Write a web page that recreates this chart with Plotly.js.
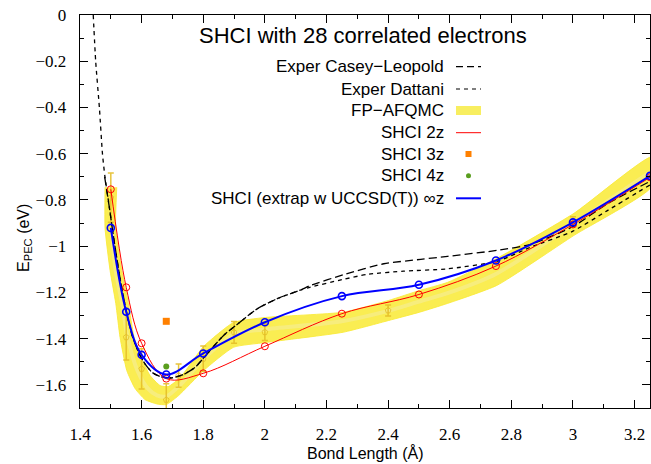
<!DOCTYPE html>
<html>
<head>
<meta charset="utf-8">
<script src="https://cdn.plot.ly/plotly-3.0.1.min.js"></script>
<style>html,body{margin:0;padding:0;background:#fff;}#chart{width:651px;height:464px;}</style>
</head>
<body>
<div id="chart"></div>
<script>
// ---- data ----
const shciX   = [1.5, 1.55, 1.6, 1.68, 1.8, 2.0, 2.25, 2.5, 2.75, 3.0, 3.25];
const shci2z  = [-0.754, -1.178, -1.420, -1.573, -1.550, -1.433, -1.292, -1.209, -1.086, -0.906, -0.702];
const shciInf = [-0.921, -1.284, -1.470, -1.555, -1.464, -1.329, -1.216, -1.167, -1.062, -0.897, -0.696];
const shci3zX = [1.68];
const shci3z  = [-1.325];
const shci4zX = [1.68];
const shci4z  = [-1.520];

const dattaniX = [1.443, 1.451, 1.463, 1.473, 1.481, 1.495, 1.51, 1.53, 1.55, 1.57, 1.595, 1.611, 1.633, 1.66, 1.698, 1.736, 1.774, 1.80, 1.866, 1.899, 1.975, 2.04, 2.115, 2.148, 2.25, 2.332, 2.45, 2.593, 2.755, 2.863, 3.0, 3.113, 3.25];
const dattaniY = [0.0, -0.202, -0.402, -0.602, -0.70, -0.83, -0.97, -1.14, -1.28, -1.39, -1.473, -1.509, -1.545, -1.564, -1.570, -1.555, -1.524, -1.485, -1.386, -1.350, -1.271, -1.227, -1.190, -1.177, -1.145, -1.122, -1.108, -1.098, -1.065, -1.004, -0.935, -0.845, -0.735];

const caseyX = [1.48, 1.495, 1.51, 1.53, 1.55, 1.57, 1.595, 1.611, 1.633, 1.66, 1.698, 1.736, 1.774, 1.80, 1.866, 1.899, 1.975, 2.04, 2.115, 2.148, 2.256, 2.386, 2.506, 2.593, 2.755, 2.863, 3.0, 3.113, 3.25];
const caseyY = [-0.70, -0.83, -0.97, -1.14, -1.28, -1.39, -1.473, -1.509, -1.545, -1.564, -1.570, -1.555, -1.524, -1.485, -1.386, -1.350, -1.271, -1.227, -1.190, -1.170, -1.123, -1.076, -1.057, -1.044, -1.018, -0.992, -0.915, -0.815, -0.720];

// FP-AFQMC band: outer edge (left wall, bottom, lower side) and inner edge (right wall, top side)
const afqOuterX = [1.4813, 1.4813, 1.4976, 1.5161, 1.5301, 1.5519, 1.5789, 1.6114, 1.6494, 1.6797, 1.7197, 1.801, 1.8985, 2.0016, 2.2543, 2.4016, 2.5024, 2.5925, 2.7528, 3.0033, 3.2537];
const afqOuterY = [-0.7452, -0.9229, -1.1049, -1.2478, -1.3951, -1.5381, -1.6161, -1.6638, -1.6824, -1.6854, -1.6464, -1.5381, -1.4372, -1.4168, -1.3722, -1.3215, -1.2855, -1.2478, -1.1698, -0.9532, -0.7452];
const afqInnerX = [1.5193, 1.5154, 1.5356, 1.5571, 1.5756, 1.5984, 1.6276, 1.6602, 1.6862, 1.7252, 1.801, 1.8985, 2.0016, 2.2543, 2.4016, 2.5024, 2.5925, 2.7528, 3.0033, 3.2537];
const afqInnerY = [-0.7452, -0.9229, -1.1049, -1.2478, -1.3951, -1.4818, -1.5598, -1.6031, -1.6075, -1.5685, -1.4341, -1.3302, -1.3085, -1.2855, -1.2348, -1.1915, -1.1568, -1.0529, -0.8579, -0.6153];
// lighter stripe along the band
const afqMidX = [1.503, 1.515, 1.537, 1.554, 1.587, 1.62, 1.65, 1.68, 1.72, 1.8, 1.9, 2.0, 2.25, 2.4, 2.5, 2.6, 2.75, 3.0, 3.25];
const afqMidY = [-0.92, -1.10, -1.25, -1.39, -1.54, -1.615, -1.645, -1.65, -1.607, -1.49, -1.38, -1.36, -1.325, -1.28, -1.24, -1.20, -1.12, -0.906, -0.68];

const afqX   = [1.5, 1.55, 1.6, 1.68, 1.72, 1.8, 1.9, 2.0, 2.4, 3.0];
const afqY   = [-0.79, -1.394, -1.531, -1.665, -1.560, -1.487, -1.373, -1.372, -1.278, -0.893];
const afqErr = [0.107, 0.098, 0.087, 0.07, 0.05, 0.055, 0.047, 0.036, 0.024, 0.02];

const legendLabels = ["Exper Casey\u2212Leopold", "Exper Dattani", "FP\u2212AFQMC", "SHCI 2z", "SHCI 3z", "SHCI 4z", "SHCI (extrap w UCCSD(T)) \u221Ez"];
const titleText = "SHCI with 28 correlated electrons";
const xTitle = "Bond Length (\u00C5)";
const yTitle = "E<sub>PEC</sub> (eV)";

// ---- layout helpers (pixel -> paper) ----
const W = 651, H = 464, ML = 80, MR = 1, MT = 15, MB = 56;
const PW = W - ML - MR, PH = H - MT - MB;
const pxX = p => (p - ML) / PW;
const pxY = p => 1 - (p - MT) / PH;

const bandX = afqOuterX.concat(afqInnerX.slice().reverse());
const bandY = afqOuterY.concat(afqInnerY.slice().reverse());

const SANS = 'Liberation Sans';
const SERIF = 'Liberation Serif';

const traces = [
  {x: bandX, y: bandY, mode: 'lines', fill: 'toself', fillcolor: 'rgba(249,234,58,0.88)',
   line: {color: 'rgba(249,234,58,0.88)', width: 1, shape: 'spline', smoothing: 0.5}, hoverinfo: 'skip'},
  {x: afqMidX, y: afqMidY, mode: 'lines', line: {color: 'rgba(246,236,140,0.75)', width: 4, shape: 'spline', smoothing: 0.8}, hoverinfo: 'skip'},
  {x: afqX, y: afqY, mode: 'markers', marker: {symbol: 'pentagon-open', size: 6, color: 'rgba(228,190,40,0.85)', line: {width: 1}},
   error_y: {type: 'data', array: afqErr, visible: true, color: 'rgba(228,190,40,0.9)', thickness: 1.5, width: 3}},
  {x: dattaniX, y: dattaniY, mode: 'lines', line: {color: '#000', width: 1.3, dash: '4px,4px', shape: 'spline', smoothing: 0.6}},
  {x: caseyX, y: caseyY, mode: 'lines', line: {color: '#000', width: 1.3, dash: '8px,4px', shape: 'spline', smoothing: 0.6}},
  {x: shciX, y: shci2z, mode: 'lines+markers', line: {color: '#ff0000', width: 1, shape: 'spline'},
   marker: {symbol: 'circle-open', size: 7, color: '#ff0000', line: {width: 1}}},
  {x: shci3zX, y: shci3z, mode: 'markers', marker: {symbol: 'square', size: 7, color: '#ff8000'}},
  {x: shci4zX, y: shci4z, mode: 'markers', marker: {symbol: 'circle', size: 6, color: '#5a9e1e'}},
  {x: shciX, y: shciInf, mode: 'lines+markers', line: {color: '#0000ff', width: 2, shape: 'spline'},
   marker: {symbol: 'circle-open', size: 7, color: '#0000ff', line: {width: 1.6}}}
];

// ---- custom legend (text right-aligned, sample to its right, as in the reference) ----
const rowsPy = [66.7, 89, 110.5, 132.7, 154, 175.7, 198.3];
const textRight = 446, s0 = 456, s1 = 481, sc = 468.5;
const annotations = [];
const shapes = [];
legendLabels.forEach((t, i) => {
  annotations.push({xref: 'paper', yref: 'paper', x: pxX(textRight), y: pxY(rowsPy[i]), xanchor: 'right', yanchor: 'middle',
    text: t, showarrow: false, font: {family: SANS, size: 17, color: '#000'}});
});
const sampleLine = (i, color, width, dash) => shapes.push({type: 'line', xref: 'paper', yref: 'paper',
  x0: pxX(s0), x1: pxX(s1), y0: pxY(rowsPy[i]), y1: pxY(rowsPy[i]), line: {color: color, width: width, dash: dash}});
sampleLine(0, '#000', 1.2, '7px,4px');
sampleLine(1, '#000', 1.2, '4px,4px');
shapes.push({type: 'rect', xref: 'paper', yref: 'paper', x0: pxX(s0), x1: pxX(s1), y0: pxY(rowsPy[2] + 4.5), y1: pxY(rowsPy[2] - 4.5),
  fillcolor: '#f8ee60', line: {width: 0}});
sampleLine(3, '#ff0000', 1, 'solid');
shapes.push({type: 'rect', xref: 'paper', yref: 'paper', x0: pxX(sc - 3), x1: pxX(sc + 3), y0: pxY(rowsPy[4] + 3), y1: pxY(rowsPy[4] - 3),
  fillcolor: '#ff8000', line: {width: 0}});
shapes.push({type: 'circle', xref: 'paper', yref: 'paper', x0: pxX(sc - 2.5), x1: pxX(sc + 2.5), y0: pxY(rowsPy[5] + 2.5), y1: pxY(rowsPy[5] - 2.5),
  fillcolor: '#5a9e1e', line: {width: 0}});
sampleLine(6, '#0000ff', 2, 'solid');

annotations.push({xref: 'paper', yref: 'paper', x: pxX(363), y: pxY(36), xanchor: 'center', yanchor: 'middle',
  text: titleText, showarrow: false, font: {family: SANS, size: 22, color: '#000'}});
annotations.push({xref: 'paper', yref: 'paper', x: pxX(365), y: pxY(453), xanchor: 'center', yanchor: 'middle',
  text: xTitle, showarrow: false, font: {family: SANS, size: 16, color: '#000'}});
annotations.push({xref: 'paper', yref: 'paper', x: pxX(24), y: pxY(238), xanchor: 'center', yanchor: 'middle', textangle: -90,
  text: yTitle, showarrow: false, font: {family: SANS, size: 16, color: '#000'}});

const axisCommon = {
  showline: true, linecolor: '#000', linewidth: 1.3, mirror: 'ticks',
  ticks: 'inside', ticklen: 8, tickwidth: 1, tickcolor: '#000',
  showgrid: false, zeroline: false,
  tickfont: {family: SERIF, size: 17, color: '#000'}
};

const layout = {
  width: W, height: H,
  font: {family: SERIF, size: 17, color: '#000'},
  margin: {l: ML, r: MR, t: MT, b: MB, pad: 0},
  paper_bgcolor: '#fff', plot_bgcolor: '#fff',
  showlegend: false,
  xaxis: Object.assign({}, axisCommon, {range: [1.4, 3.25], tick0: 1.4, dtick: 0.2, ticklabelstandoff: 10,
    minor: {ticks: 'inside', ticklen: 4, tickwidth: 1, tickcolor: '#000', showgrid: false, dtick: 0.1}}),
  yaxis: Object.assign({}, axisCommon, {range: [-1.7, 0], tick0: 0, dtick: 0.2, ticklabelstandoff: 9,
    minor: {ticks: 'inside', ticklen: 4, tickwidth: 1, tickcolor: '#000', showgrid: false, dtick: 0.1}}),
  annotations: annotations,
  shapes: shapes
};

Plotly.newPlot('chart', traces, layout, {staticPlot: true, displayModeBar: false});
</script>
</body>
</html>
